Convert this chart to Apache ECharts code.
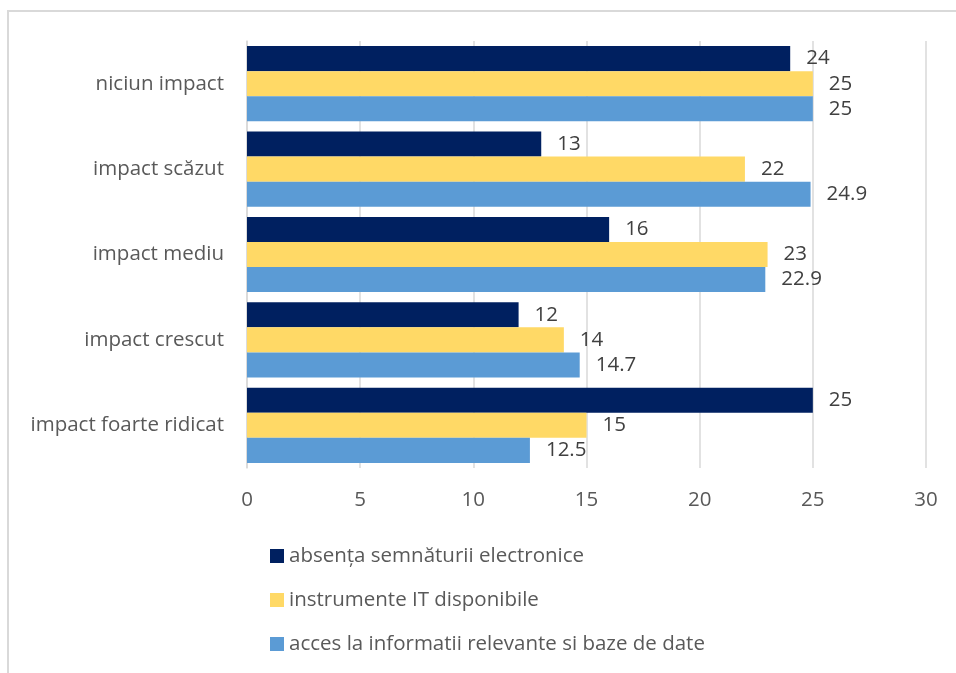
<!DOCTYPE html>
<html>
<head>
<meta charset="utf-8">
<script src="https://cdn.jsdelivr.net/npm/echarts@6/dist/echarts.min.js"></script>
<style>
  html, body { margin: 0; padding: 0; background: #fff; }
  #chart { width: 956px; height: 673px; }
</style>
</head>
<body>
<div id="chart"></div>
<script>
// Impact categories, listed top to bottom
const categories = ['niciun impact', 'impact scăzut', 'impact mediu', 'impact crescut', 'impact foarte ridicat'];

const seriesNames = [
  'absența semnăturii electronice',
  'instrumente IT disponibile',
  'acces la informatii relevante si baze de date'
];

const absentaSemnaturii = [24, 13, 16, 12, 25];
const instrumenteIT = [25, 22, 23, 14, 15];
const accesInformatii = [25, 24.9, 22.9, 14.7, 12.5];

const xTicks = { min: 0, max: 30, interval: 5 };

const colors = ['#002060', '#FFD966', '#5B9BD5'];
const fontFamily = '"Open Sans", "Liberation Sans", sans-serif';
const fontSize = 20.5;

const chart = echarts.init(document.getElementById('chart'), null, { renderer: 'canvas' });

function barSeries(name, data, color) {
  return {
    name: name,
    type: 'bar',
    data: data,
    barGap: '0%',
    barCategoryGap: '12%',
    itemStyle: { color: color },
    label: {
      show: true,
      position: 'right',
      distance: 16,
      color: '#404040',
      fontSize: fontSize,
      fontFamily: fontFamily,
      padding: [3, 0, 0, 0]
    },
    emphasis: { disabled: true }
  };
}

chart.setOption({
  animation: false,
  backgroundColor: '#ffffff',
  graphic: [{
    type: 'rect',
    shape: { x: 8, y: 11, width: 1000, height: 700 },
    style: { fill: 'none', stroke: '#d9d9d9', lineWidth: 2 },
    silent: true
  }],
  grid: { left: 247, right: 30, top: 41, bottom: 205, containLabel: false },
  xAxis: {
    type: 'value',
    min: xTicks.min,
    max: xTicks.max,
    interval: xTicks.interval,
    axisLine: { show: false },
    axisTick: { show: false },
    splitLine: { show: true, lineStyle: { color: '#d9d9d9', width: 1.5 } },
    axisLabel: { color: '#595959', fontSize: fontSize, fontFamily: fontFamily, margin: 22 }
  },
  yAxis: {
    type: 'category',
    data: categories,
    inverse: true,
    axisLine: { show: true, lineStyle: { color: '#d9d9d9', width: 1.5 } },
    axisTick: { show: false },
    axisLabel: { color: '#595959', fontSize: fontSize, fontFamily: fontFamily, margin: 23 }
  },
  legend: {
    orient: 'vertical',
    left: 265,
    top: 539,
    itemWidth: 14,
    itemHeight: 14,
    itemGap: 20,
    icon: 'rect',
    textStyle: { color: '#595959', fontSize: fontSize, fontFamily: fontFamily, lineHeight: 24 },
    data: seriesNames
  },
  series: [
    barSeries(seriesNames[0], absentaSemnaturii, colors[0]),
    barSeries(seriesNames[1], instrumenteIT, colors[1]),
    barSeries(seriesNames[2], accesInformatii, colors[2])
  ]
});
</script>
</body>
</html>
